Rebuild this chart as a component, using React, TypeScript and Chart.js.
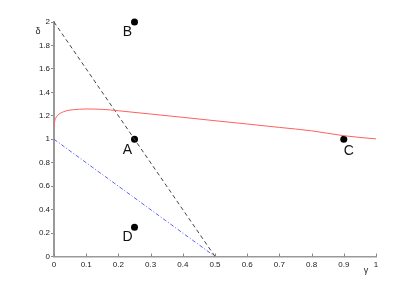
import React, { useEffect, useRef } from "react";
import { Chart, registerables } from "chart.js";
Chart.register(...registerables);

const curveX = [0, 0.002, 0.005, 0.01, 0.02, 0.03, 0.04, 0.06, 0.08, 0.1, 0.15, 0.2, 0.3, 0.4, 0.5, 0.6, 0.7, 0.8, 0.9, 1.0];
const curveY = [1.1, 1.15, 1.178, 1.2, 1.222, 1.235, 1.244, 1.252, 1.256, 1.258, 1.255, 1.243, 1.215, 1.187, 1.158, 1.13, 1.101, 1.072, 1.03, 1.003];
const dashedX = [0, 0.5];
const dashedY = [2, 0];
const dashDotX = [0, 0.5];
const dashDotY = [1, 0];
const pointNames = ["A", "B", "C", "D"];
const pointX = [0.25, 0.25, 0.9, 0.25];
const pointY = [1, 2, 1, 0.25];
const xTicks = ["0", "0.1", "0.2", "0.3", "0.4", "0.5", "0.6", "0.7", "0.8", "0.9", "1"];
const yTicks = ["0", "0.2", "0.4", "0.6", "0.8", "1", "1.2", "1.4", "1.6", "1.8", "2"];

const labelOffsets: Record<string, [number, number]> = {
  A: [-7, 11],
  B: [-7, 10],
  C: [5, 12],
  D: [-7, 10],
};

export default function App() {
  const ref = useRef<HTMLCanvasElement>(null);
  useEffect(() => {
    document.body.style.margin = "0";
    const ctx = ref.current!;
    const overlay = {
      id: "overlay",
      afterDraw(chart: any) {
        const c = chart.ctx;
        const xs = chart.scales.x;
        const ys = chart.scales.y;
        const area = chart.chartArea;
        c.save();
        c.strokeStyle = "#888";
        c.lineWidth = 1;
        xTicks.forEach((t) => {
          const px = Math.round(xs.getPixelForValue(parseFloat(t))) + 0.5;
          c.beginPath();
          c.moveTo(px, area.bottom);
          c.lineTo(px, area.bottom - 3);
          c.stroke();
        });
        c.fillStyle = "#111";
        c.font = "14px 'Liberation Sans', Arial, sans-serif";
        c.textAlign = "center";
        c.textBaseline = "middle";
        pointNames.forEach((n, i) => {
          const px = xs.getPixelForValue(pointX[i]);
          const py = ys.getPixelForValue(pointY[i]);
          const o = labelOffsets[n];
          c.fillText(n, px + o[0], py + o[1]);
        });
        c.font = "9px 'Liberation Sans', Arial, sans-serif";
        c.fillStyle = "#222";
        c.fillText("δ", area.left - 16, area.top + 10);
        c.fillText("γ", area.right - 10, area.bottom + 14);
        c.restore();
      },
    };
    const chart = new Chart(ctx, {
      type: "scatter",
      data: {
        datasets: [
          {
            data: curveX.map((x, i) => ({ x, y: curveY[i] })),
            showLine: true,
            borderColor: "#ff6060",
            borderWidth: 1,
            pointRadius: 0,
            cubicInterpolationMode: "monotone",
          },
          {
            data: dashedX.map((x, i) => ({ x, y: dashedY[i] })),
            showLine: true,
            borderColor: "#444",
            borderWidth: 1,
            borderDash: [4, 3],
            pointRadius: 0,
          },
          {
            data: dashDotX.map((x, i) => ({ x, y: dashDotY[i] })),
            showLine: true,
            borderColor: "#6060ff",
            borderWidth: 1,
            borderDash: [4, 2, 1, 2],
            pointRadius: 0,
          },
          {
            data: pointX.map((x, i) => ({ x, y: pointY[i] })),
            showLine: false,
            backgroundColor: "#000",
            borderColor: "#000",
            pointRadius: 3.5,
            borderWidth: 0,
            clip: false,
          },
        ],
      },
      options: {
        animation: false,
        responsive: false,
        devicePixelRatio: 1,
        layout: { padding: { top: 22, right: 40, left: 0, bottom: 0 } },
        plugins: { legend: { display: false }, tooltip: { enabled: false } },
        scales: {
          x: {
            type: "linear",
            min: 0,
            max: 1,
            afterBuildTicks: (s: any) => {
              s.ticks = xTicks.map((t) => ({ value: parseFloat(t) }));
            },
            afterFit: (s: any) => {
              s.height = 31.5;
            },
            ticks: {
              callback: (_v: any, i: number) => xTicks[i],
              font: { size: 8, family: "'Liberation Sans', Arial, sans-serif" },
              color: "#222",
              padding: 3,
              maxRotation: 0,
              autoSkip: false,
            },
            grid: { display: true, drawOnChartArea: false, drawTicks: false },
            border: { display: true, color: "#999", width: 1.5 },
          },
          y: {
            type: "linear",
            min: 0,
            max: 2,
            afterBuildTicks: (s: any) => {
              s.ticks = yTicks.map((t) => ({ value: parseFloat(t) }));
            },
            afterFit: (s: any) => {
              s.width = 54;
            },
            ticks: {
              callback: (_v: any, i: number) => yTicks[i],
              font: { size: 8, family: "'Liberation Sans', Arial, sans-serif" },
              color: "#222",
              padding: 1,
              autoSkip: false,
            },
            grid: { display: true, drawOnChartArea: false, drawTicks: true, tickLength: 3, color: "#888" },
            border: { display: true, color: "#999", width: 2 },
          },
        },
      },
      plugins: [overlay],
    });
    return () => chart.destroy();
  }, []);
  return (
    <div style={{ width: 416, height: 288 }}>
      <canvas ref={ref} width={416} height={288} style={{ display: "block" }} />
    </div>
  );
}
